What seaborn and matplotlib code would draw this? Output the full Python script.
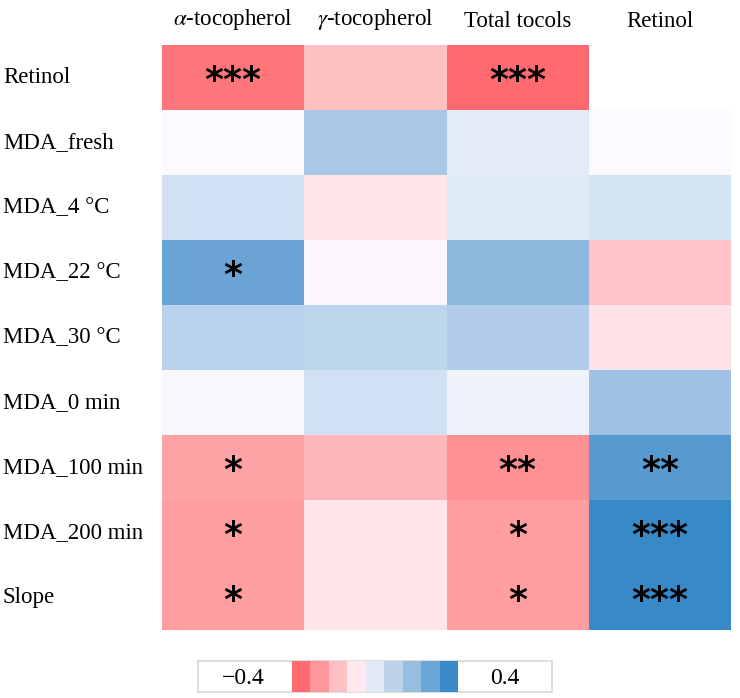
import numpy as np
import pandas as pd
import seaborn as sns
import matplotlib.pyplot as plt
from matplotlib.colors import LinearSegmentedColormap, ListedColormap

plt.rcParams['mathtext.fontset'] = 'stix'

# row / column labels
rows = ['Retinol', 'MDA_fresh', 'MDA_4 °C', 'MDA_22 °C', 'MDA_30 °C',
        'MDA_0 min', 'MDA_100 min', 'MDA_200 min', 'Slope']
cols = [r'$\alpha$-tocopherol', r'$\gamma$-tocopherol', 'Total tocols', 'Retinol']

# correlation coefficients
alpha_toc = [-0.37, 0.00, 0.13, 0.34, 0.19, 0.01, -0.27, -0.28, -0.28]
gamma_toc = [-0.20, 0.23, -0.10, -0.02, 0.18, 0.13, -0.22, -0.10, -0.10]
total_toc = [-0.40, 0.08, 0.09, 0.29, 0.21, 0.04, -0.31, -0.28, -0.28]
retinol = [np.nan, 0.00, 0.12, -0.19, -0.11, 0.25, 0.36, 0.40, 0.40]

# significance marks
sig_alpha = ['***', '', '', '*', '', '', '*', '*', '*']
sig_gamma = ['', '', '', '', '', '', '', '', '']
sig_total = ['***', '', '', '', '', '', '**', '*', '*']
sig_retinol = ['', '', '', '', '', '', '**', '***', '***']

# legend
vmin, vmax = -0.4, 0.4
legend_colors = ['#FF6B6E', '#FF9699', '#FFC0C4', '#FFE8EE', '#E1EAF7',
                 '#BDD3EC', '#95BEE1', '#6AA6D8', '#3A8AC8']

df = pd.DataFrame({c: v for c, v in zip(cols, [alpha_toc, gamma_toc, total_toc, retinol])}, index=rows)
sig = np.array([sig_alpha, sig_gamma, sig_total, sig_retinol]).T

cmap = LinearSegmentedColormap.from_list(
    'rb', ['#FF6A6E', '#FF9699', '#FFC0C4', '#FFE6EB', '#FAFAFF',
           '#DCE8F6', '#B6D0EB', '#8AB6DD', '#3889C8'])

W, H = 740, 698
fig = plt.figure(figsize=(W / 100, H / 100), dpi=100)
ax = fig.add_axes([162 / W, (H - 630) / H, 569 / W, 585 / H])

sns.heatmap(df, ax=ax, cmap=cmap, vmin=vmin, vmax=vmax, cbar=False,
            annot=sig, fmt='',
            annot_kws={'fontsize': 26, 'color': 'black', 'family': 'DejaVu Sans',
                       'fontweight': 'bold'})
# nudge the stars down a little, as in the original
for t in ax.texts:
    x, y = t.get_position()
    t.set_position((x, y + 0.06))

serif = ['Liberation Serif', 'DejaVu Serif']
ax.xaxis.tick_top()
ax.set_xticklabels(cols, fontsize=16.5, family=serif, rotation=0)
ax.set_yticklabels(rows, fontsize=16.5, family=serif, rotation=0, ha='left')
ax.tick_params(axis='x', length=0, pad=9.5)
ax.tick_params(axis='y', length=0, pad=159 * 0.72)
ax.set_xlabel('')
ax.set_ylabel('')

# legend box
lax = fig.add_axes([198 / W, (H - 692) / H, 354 / W, 31 / H])
lax.set_xlim(0, 1)
lax.set_ylim(0, 1)
lax.set_xticks([])
lax.set_yticks([])
for s in lax.spines.values():
    s.set_color('#D8D8D8')
    s.set_linewidth(1.2)
lax.text((243 - 198) / 354, 0.45, '\u22120.4', ha='center', va='center', fontsize=17, family=serif)
lax.text((505 - 198) / 354, 0.45, '0.4', ha='center', va='center', fontsize=17, family=serif)

sax = fig.add_axes([292 / W, (H - 692) / H, 166 / W, 31 / H])
sns.heatmap(np.arange(len(legend_colors))[None, :], ax=sax, cmap=ListedColormap(legend_colors),
            cbar=False, xticklabels=False, yticklabels=False)

fig.savefig('out.png', dpi=100)
